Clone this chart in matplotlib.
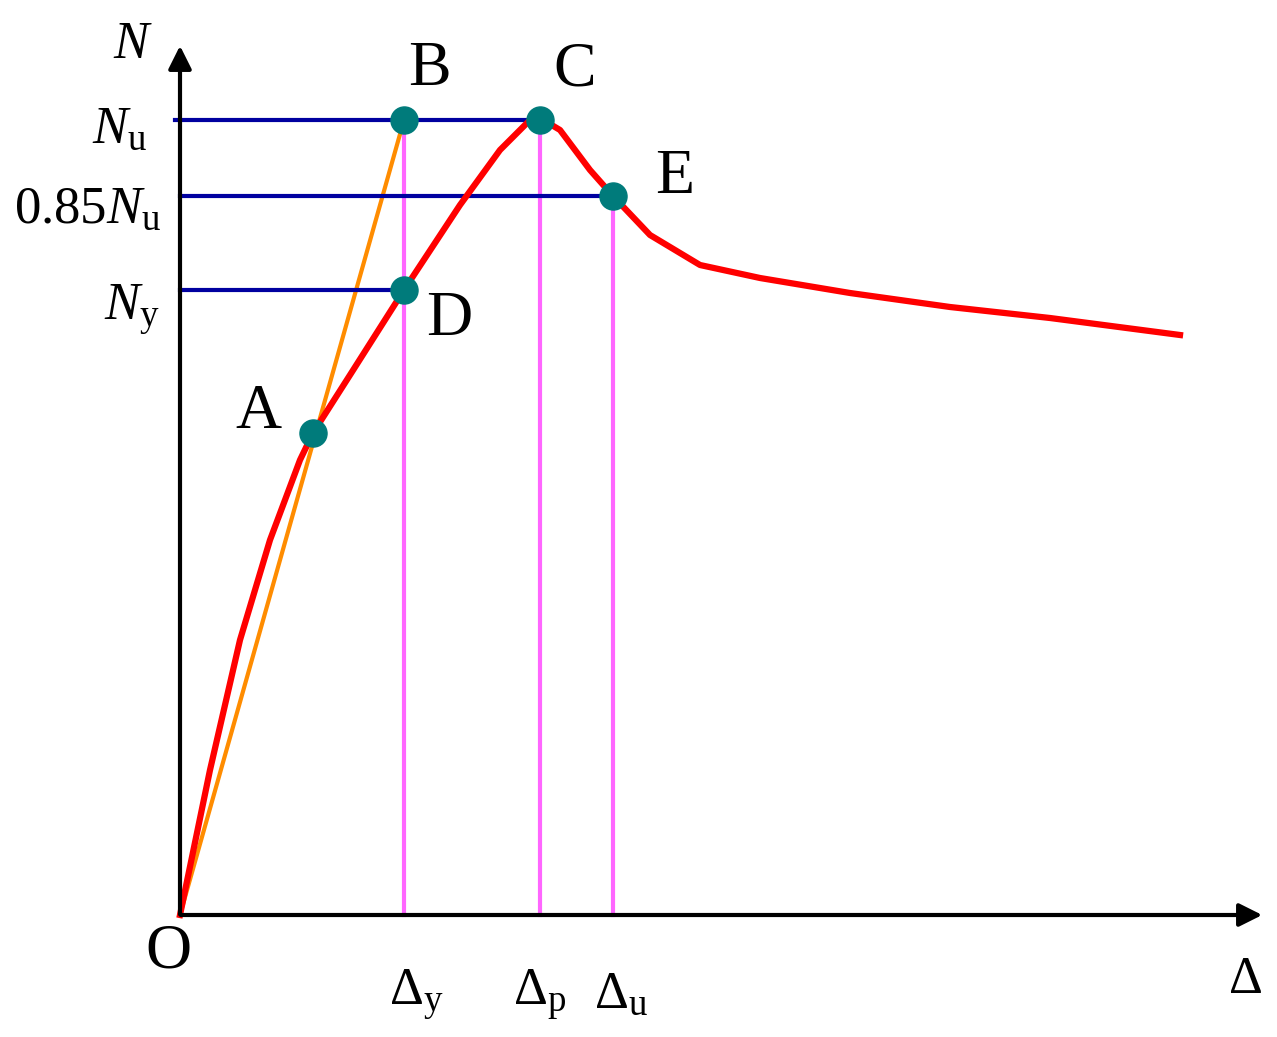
import matplotlib
matplotlib.use("Agg")
import matplotlib.pyplot as plt
import numpy as np

plt.rcParams['mathtext.fontset'] = 'custom'
plt.rcParams['mathtext.rm'] = 'Liberation Serif'
plt.rcParams['mathtext.it'] = 'Liberation Serif:italic'
plt.rcParams['font.family'] = 'Liberation Serif'

# curve (displacement, load) in drawing units from origin O
curve_x = [0, 30, 60, 90, 120, 133, 170, 224, 280, 320, 350, 360, 380, 410, 433, 470, 520, 580, 670, 770, 870, 1000]
curve_y = [0, 145, 275, 375, 455, 482, 540, 625, 710, 765, 795, 797, 785, 745, 719, 680, 650, 637, 622, 608, 597, 580]
pt_names = ['A', 'B', 'C', 'D', 'E']
pt_x = [133, 224, 360, 224, 433]
pt_y = [482, 795, 795, 625, 719]
N_u, N_085, N_y = 795, 719, 625
d_y, d_p, d_u = 224, 360, 433

fig = plt.figure(figsize=(12.77, 10.37), dpi=100)
ax = fig.add_axes([0, 0, 1, 1])
ax.set_xlim(-180, 1097)
ax.set_ylim(-122, 915)
ax.axis('off')

ax.plot(curve_x, curve_y, color='#ff0000', lw=4.5, zorder=3)
ax.plot([0, d_y], [0, N_u], color='#ff8c00', lw=3, zorder=2)

ax.plot([-5, d_p], [N_u, N_u], color='#0000a0', lw=3, zorder=2)
ax.plot([0, d_u], [N_085, N_085], color='#0000a0', lw=3, zorder=2)
ax.plot([0, d_y], [N_y, N_y], color='#0000a0', lw=3, zorder=2)
for d, top in [(d_y, N_u), (d_p, N_u), (d_u, N_085)]:
    ax.plot([d, d], [0, top], color='#ff66ff', lw=3, zorder=1)

ax.scatter(pt_x, pt_y, s=380, color='#007b7b', zorder=4)

ax.annotate('', xy=(1085, 0), xytext=(-2, 0),
            arrowprops=dict(arrowstyle='-|>', color='black', lw=3, mutation_scale=35))
ax.annotate('', xy=(0, 872), xytext=(0, -2),
            arrowprops=dict(arrowstyle='-|>', color='black', lw=3, mutation_scale=35))

big = 46
offs = {'A': (-55, 20), 'B': (25, 50), 'C': (35, 50), 'D': (45, -30), 'E': (62, 18)}
for n, x, y in zip(pt_names, pt_x, pt_y):
    dx, dy = offs[n]
    ax.text(x + dx, y + dy, n, fontsize=big, ha='center', va='center')
ax.text(-12, -38, 'O', fontsize=big, ha='center', va='center')

lab = 38
ax.text(-47, 870, r'$N$', fontsize=lab, ha='center', va='center')
ax.text(-60, 785, r'$N_{\mathrm{u}}$', fontsize=lab, ha='center', va='center')
ax.text(-92, 705, r'$0.85N_{\mathrm{u}}$', fontsize=lab, ha='center', va='center')
ax.text(-48, 605, r'$N_{\mathrm{y}}$', fontsize=lab, ha='center', va='center')
ax.text(d_y + 12, -80, r'$\mathit{\Delta}_{\mathrm{y}}$', fontsize=lab, ha='center', va='center')
ax.text(d_p, -80, r'$\mathit{\Delta}_{\mathrm{p}}$', fontsize=lab, ha='center', va='center')
ax.text(d_u + 8, -80, r'$\mathit{\Delta}_{\mathrm{u}}$', fontsize=lab, ha='center', va='center')
ax.text(1065, -65, r'$\mathit{\Delta}$', fontsize=lab, ha='center', va='center')

fig.savefig('out.png', dpi=100)
